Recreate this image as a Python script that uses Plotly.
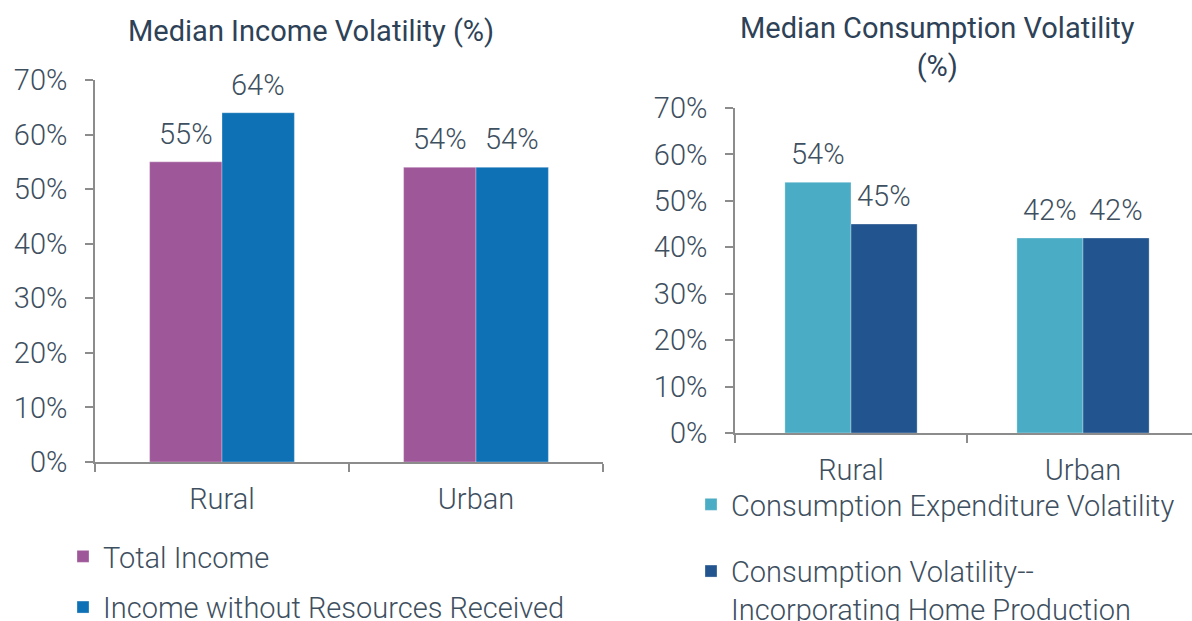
import plotly.graph_objects as go

# ---- data ----
categories = ["Rural", "Urban"]
income_total = [55, 54]
income_no_resources = [64, 54]
cons_expenditure = [54, 42]
cons_home_production = [45, 42]
y_tick_values = [0, 10, 20, 30, 40, 50, 60, 70]
y_tick_labels = ["0%", "10%", "20%", "30%", "40%", "50%", "60%", "70%"]

title_left = "Median Income Volatility (%)"
title_right = "Median Consumption Volatility<br>(%)"
names_left = ["Total Income", "Income without Resources Received"]
names_right = ["Consumption Expenditure Volatility",
               "Consumption Volatility--<br>Incorporating Home Production"]

# ---- style ----
W, H = 1192, 621
FONT = "Roboto"
TEXT = "#3E4F60"
TITLE = "#2E4257"
AXIS = "#8C8C8C"
COL_PURPLE = "#9E5799"
COL_BLUE = "#0F71B5"
COL_TEAL = "#4BACC6"
COL_NAVY = "#22548F"
BARGAP = 0.43
FS = 29


def px_x(p):
    return p / W


def px_y(p):
    return 1 - p / H


fig = go.Figure()

series = [
    ("x", "y", "legend", names_left[0], income_total, COL_PURPLE, "g1"),
    ("x", "y", "legend", names_left[1], income_no_resources, COL_BLUE, "g2"),
    ("x2", "y2", "legend2", names_right[0], cons_expenditure, COL_TEAL, "g3"),
    ("x2", "y2", "legend2", names_right[1], cons_home_production, COL_NAVY, "g4"),
]
for xa, ya, lg, name, vals, col, grp in series:
    fig.add_trace(go.Bar(
        x=categories, y=vals, name=name, xaxis=xa, yaxis=ya, legend=lg,
        legendgroup=grp,
        marker=dict(color=col, line=dict(width=0.6, color="rgba(255,255,255,0.5)")),
    ))

# value labels above bars
annotations = []
bw = (1 - BARGAP) / 2
pairs = [("x", "y", [income_total, income_no_resources]),
         ("x2", "y2", [cons_expenditure, cons_home_production])]
for xa, ya, groups in pairs:
    for j, vals in enumerate(groups):
        for i, v in enumerate(vals):
            annotations.append(dict(
                x=i + (j - 0.5) * bw, y=v, xref=xa, yref=ya,
                text=f"{v}%", showarrow=False, yanchor="bottom", yshift=9,
                font=dict(family=FONT, size=FS, color=TEXT, weight=300),
            ))

# titles
annotations.append(dict(text=title_left, x=px_x(311), y=px_y(31), xref="paper", yref="paper",
                        showarrow=False, xanchor="center", yanchor="middle",
                        font=dict(family=FONT, size=29, color=TITLE, weight=400)))
annotations.append(dict(text=title_right, x=px_x(937), y=px_y(47), xref="paper", yref="paper",
                        showarrow=False, xanchor="center", yanchor="middle",
                        font=dict(family=FONT, size=29, color=TITLE, weight=400)))

axis_common = dict(showline=True, linecolor=AXIS, linewidth=1.5, ticks="outside",
                   ticklen=8, tickwidth=1.5, tickcolor=AXIS, showgrid=False, zeroline=False,
                   tickfont=dict(family=FONT, size=FS, color=TEXT, weight=300))

fig.update_layout(
    width=W, height=H,
    margin=dict(l=0, r=0, t=0, b=0, pad=0, autoexpand=False),
    paper_bgcolor="white", plot_bgcolor="white",
    barmode="group", bargap=BARGAP, bargroupgap=0,
    annotations=annotations,
    xaxis=dict(domain=[px_x(95), px_x(603)], anchor="y", type="category",
               range=[-0.5, 1.5], tickson="boundaries", ticklabelstandoff=10,
               **axis_common),
    yaxis=dict(domain=[px_y(462), px_y(80)], anchor="x", range=[0, 70],
               tickvals=y_tick_values, ticktext=y_tick_labels, ticklabelstandoff=12,
               **axis_common),
    xaxis2=dict(domain=[px_x(735), 1.0], anchor="y2", type="category",
                range=[-0.5, -0.5 + (W - 735) / 232], tickson="boundaries",
                ticklabelstandoff=10, **axis_common),
    yaxis2=dict(domain=[px_y(433), px_y(108)], anchor="x2", range=[0, 70],
                tickvals=y_tick_values, ticktext=y_tick_labels, ticklabelstandoff=12,
                **axis_common),
    legend=dict(x=px_x(63), y=px_y(531), xanchor="left", yanchor="top",
                bgcolor="rgba(0,0,0,0)", traceorder="grouped", tracegroupgap=10,
                font=dict(family=FONT, size=FS, color=TEXT, weight=300)),
    legend2=dict(x=px_x(691), y=px_y(479), xanchor="left", yanchor="top",
                 bgcolor="rgba(0,0,0,0)", traceorder="grouped", tracegroupgap=26,
                 valign="top",
                 font=dict(family=FONT, size=FS, color=TEXT, weight=300)),
    showlegend=True,
)

fig.write_html("out.html", config={"displayModeBar": False},
               post_script="document.body.style.margin='0px';")
